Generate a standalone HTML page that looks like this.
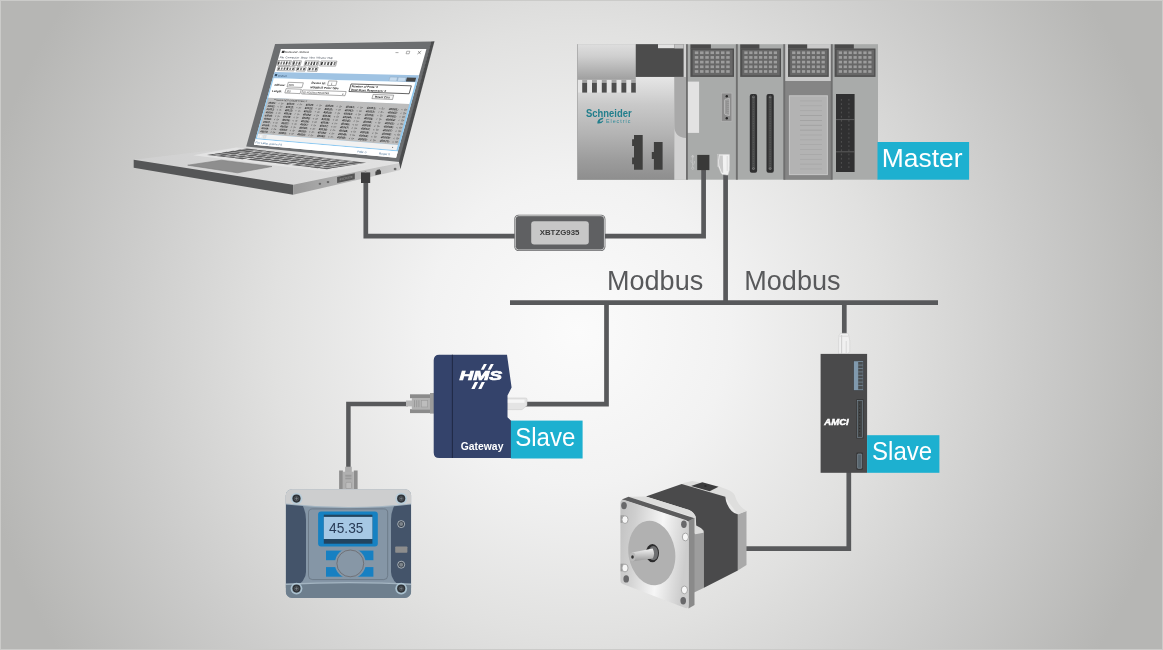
<!DOCTYPE html>
<html lang="en"><head><meta charset="utf-8"><title>Modbus network</title>
<style>
html,body{margin:0;padding:0}
body{width:1163px;height:650px;overflow:hidden;background:#b5b5b3}
#stage{position:relative;width:1163px;height:650px;overflow:hidden;
 background:radial-gradient(circle 610px at 578px 332px,#fbfbfb 0%,#f2f2f2 25%,#e1e1e0 50%,#cbcbca 75%,#b6b6b4 100%);}
#stage:after{content:'';position:absolute;left:0;top:0;right:0;bottom:0;border:1px solid #cbcbc9;pointer-events:none}
</style></head>
<body><div id="stage">
<svg width="1163" height="650" viewBox="0 0 1163 650" style="position:absolute;left:0;top:0;will-change:transform"><defs>
<linearGradient id="gPsTop" x1="0" y1="0" x2="0" y2="1"><stop offset="0" stop-color="#dedede"/><stop offset="0.25" stop-color="#cfcfcf"/><stop offset="0.73" stop-color="#9f9f9f"/><stop offset="1" stop-color="#9f9f9f"/></linearGradient>
<linearGradient id="gPsBody" gradientUnits="userSpaceOnUse" x1="0" y1="76.9" x2="0" y2="179.7"><stop offset="0" stop-color="#e6e6e6"/><stop offset="0.155" stop-color="#d6d6d6"/><stop offset="0.27" stop-color="#c9c9c9"/><stop offset="0.56" stop-color="#b3b3b3"/><stop offset="0.81" stop-color="#9c9c9c"/><stop offset="1" stop-color="#8e8e8e"/></linearGradient>
<linearGradient id="gSide" x1="0" y1="0" x2="1" y2="0"><stop offset="0" stop-color="#9a9a9a"/><stop offset="1" stop-color="#cdcdcd"/></linearGradient>
<linearGradient id="gTop" x1="0" y1="0" x2="1" y2="0"><stop offset="0" stop-color="#cfcfcf"/><stop offset="1" stop-color="#e2e2e2"/></linearGradient>
<linearGradient id="gPlate" x1="0" y1="0.1" x2="1" y2="0.3"><stop offset="0" stop-color="#c2c2c2"/><stop offset="0.22" stop-color="#cfcfcf"/><stop offset="0.62" stop-color="#f6f6f6"/><stop offset="1" stop-color="#cdcdcd"/></linearGradient>
<linearGradient id="gShaft" x1="0" y1="0" x2="0" y2="1"><stop offset="0" stop-color="#f4f4f4"/><stop offset="1" stop-color="#9a9a9a"/></linearGradient>
<g id="conn">
  <rect x="0" y="0" width="20.5" height="4.4" fill="#4a4a4a"/>
  <rect x="0" y="4.1" width="43.6" height="28.4" fill="#4f4f4f"/>
  <rect x="2.2" y="5.4" width="40" height="25.6" fill="#676767"/>
  <g fill="#9d9d9d"><rect x="4.40" y="7.00" width="3.5" height="2.7"/><rect x="9.64" y="7.00" width="3.5" height="2.7"/><rect x="14.88" y="7.00" width="3.5" height="2.7"/><rect x="20.12" y="7.00" width="3.5" height="2.7"/><rect x="25.36" y="7.00" width="3.5" height="2.7"/><rect x="30.60" y="7.00" width="3.5" height="2.7"/><rect x="35.84" y="7.00" width="3.5" height="2.7"/><rect x="4.40" y="11.68" width="3.5" height="2.7"/><rect x="9.64" y="11.68" width="3.5" height="2.7"/><rect x="14.88" y="11.68" width="3.5" height="2.7"/><rect x="20.12" y="11.68" width="3.5" height="2.7"/><rect x="25.36" y="11.68" width="3.5" height="2.7"/><rect x="30.60" y="11.68" width="3.5" height="2.7"/><rect x="35.84" y="11.68" width="3.5" height="2.7"/><rect x="4.40" y="16.36" width="3.5" height="2.7"/><rect x="9.64" y="16.36" width="3.5" height="2.7"/><rect x="14.88" y="16.36" width="3.5" height="2.7"/><rect x="20.12" y="16.36" width="3.5" height="2.7"/><rect x="25.36" y="16.36" width="3.5" height="2.7"/><rect x="30.60" y="16.36" width="3.5" height="2.7"/><rect x="35.84" y="16.36" width="3.5" height="2.7"/><rect x="4.40" y="21.04" width="3.5" height="2.7"/><rect x="9.64" y="21.04" width="3.5" height="2.7"/><rect x="14.88" y="21.04" width="3.5" height="2.7"/><rect x="20.12" y="21.04" width="3.5" height="2.7"/><rect x="25.36" y="21.04" width="3.5" height="2.7"/><rect x="30.60" y="21.04" width="3.5" height="2.7"/><rect x="35.84" y="21.04" width="3.5" height="2.7"/><rect x="4.40" y="25.72" width="3.5" height="2.7"/><rect x="9.64" y="25.72" width="3.5" height="2.7"/><rect x="14.88" y="25.72" width="3.5" height="2.7"/><rect x="20.12" y="25.72" width="3.5" height="2.7"/><rect x="25.36" y="25.72" width="3.5" height="2.7"/><rect x="30.60" y="25.72" width="3.5" height="2.7"/><rect x="35.84" y="25.72" width="3.5" height="2.7"/></g>
</g>
</defs>
<path d="M365.8,180 V236.2 H516" fill="none" stroke="#58595b" stroke-width="4.7" stroke-linejoin="miter"/>
<path d="M510,302.7 H938" fill="none" stroke="#58595b" stroke-width="4.7" stroke-linejoin="miter"/>
<path d="M606.5,302.7 V404.2 H524" fill="none" stroke="#58595b" stroke-width="4.7" stroke-linejoin="miter"/>
<path d="M844.3,302.7 V334.5" fill="none" stroke="#58595b" stroke-width="4.7" stroke-linejoin="miter"/>
<path d="M408,403.9 H348.4 V468" fill="none" stroke="#58595b" stroke-width="4.5" stroke-linejoin="miter"/>
<path d="M848.8,470 V548.6 H745" fill="none" stroke="#58595b" stroke-width="4.7" stroke-linejoin="miter"/>
<g id="laptop">
<polygon points="133.7,159.7 246.5,146.2 399.3,162.6 293.1,184.8" fill="url(#gTop)"/>
<polygon points="133.7,159.7 293.1,184.8 293.1,194.8 133.7,167.8" fill="#555657"/>
<polygon points="293.1,184.8 399.1,163 400.2,169.9 293.1,194.8" fill="url(#gSide)"/>
<polygon points="193.3,155.3 236.3,147.6 371.4,163.8 327.6,172" fill="#e3e3e3"/>
<g transform="matrix(122.2,14.6,-42.2,6.9,246.7,148.1)" fill="#5e5e5f">
<rect x="0.0113" y="0.0300" width="0.0901" height="0.1293"/>
<rect x="0.1137" y="0.0300" width="0.0601" height="0.1293"/>
<rect x="0.1835" y="0.0300" width="0.0601" height="0.1293"/>
<rect x="0.2534" y="0.0300" width="0.0601" height="0.1293"/>
<rect x="0.3233" y="0.0300" width="0.0601" height="0.1293"/>
<rect x="0.3931" y="0.0300" width="0.0601" height="0.1293"/>
<rect x="0.4630" y="0.0300" width="0.0601" height="0.1293"/>
<rect x="0.5328" y="0.0300" width="0.0601" height="0.1293"/>
<rect x="0.6027" y="0.0300" width="0.0601" height="0.1293"/>
<rect x="0.6726" y="0.0300" width="0.0601" height="0.1293"/>
<rect x="0.7424" y="0.0300" width="0.0601" height="0.1293"/>
<rect x="0.8123" y="0.0300" width="0.0601" height="0.1293"/>
<rect x="0.8856" y="0.0300" width="0.1021" height="0.1293"/>
<rect x="0.0133" y="0.1917" width="0.1141" height="0.1293"/>
<rect x="0.1416" y="0.1917" width="0.0601" height="0.1293"/>
<rect x="0.2115" y="0.1917" width="0.0601" height="0.1293"/>
<rect x="0.2813" y="0.1917" width="0.0601" height="0.1293"/>
<rect x="0.3512" y="0.1917" width="0.0601" height="0.1293"/>
<rect x="0.4211" y="0.1917" width="0.0601" height="0.1293"/>
<rect x="0.4909" y="0.1917" width="0.0601" height="0.1293"/>
<rect x="0.5608" y="0.1917" width="0.0601" height="0.1293"/>
<rect x="0.6306" y="0.1917" width="0.0601" height="0.1293"/>
<rect x="0.7005" y="0.1917" width="0.0601" height="0.1293"/>
<rect x="0.7704" y="0.1917" width="0.0601" height="0.1293"/>
<rect x="0.8402" y="0.1917" width="0.0601" height="0.1293"/>
<rect x="0.9115" y="0.1917" width="0.0781" height="0.1293"/>
<rect x="0.0113" y="0.3533" width="0.0901" height="0.1293"/>
<rect x="0.1137" y="0.3533" width="0.0601" height="0.1293"/>
<rect x="0.1835" y="0.3533" width="0.0601" height="0.1293"/>
<rect x="0.2534" y="0.3533" width="0.0601" height="0.1293"/>
<rect x="0.3233" y="0.3533" width="0.0601" height="0.1293"/>
<rect x="0.3931" y="0.3533" width="0.0601" height="0.1293"/>
<rect x="0.4630" y="0.3533" width="0.0601" height="0.1293"/>
<rect x="0.5328" y="0.3533" width="0.0601" height="0.1293"/>
<rect x="0.6027" y="0.3533" width="0.0601" height="0.1293"/>
<rect x="0.6726" y="0.3533" width="0.0601" height="0.1293"/>
<rect x="0.7424" y="0.3533" width="0.0601" height="0.1293"/>
<rect x="0.8123" y="0.3533" width="0.0601" height="0.1293"/>
<rect x="0.8856" y="0.3533" width="0.1021" height="0.1293"/>
<rect x="0.0133" y="0.5150" width="0.1141" height="0.1293"/>
<rect x="0.1416" y="0.5150" width="0.0601" height="0.1293"/>
<rect x="0.2115" y="0.5150" width="0.0601" height="0.1293"/>
<rect x="0.2813" y="0.5150" width="0.0601" height="0.1293"/>
<rect x="0.3512" y="0.5150" width="0.0601" height="0.1293"/>
<rect x="0.4211" y="0.5150" width="0.0601" height="0.1293"/>
<rect x="0.4909" y="0.5150" width="0.0601" height="0.1293"/>
<rect x="0.5608" y="0.5150" width="0.0601" height="0.1293"/>
<rect x="0.6306" y="0.5150" width="0.0601" height="0.1293"/>
<rect x="0.7005" y="0.5150" width="0.0601" height="0.1293"/>
<rect x="0.7704" y="0.5150" width="0.0601" height="0.1293"/>
<rect x="0.8402" y="0.5150" width="0.0601" height="0.1293"/>
<rect x="0.9115" y="0.5150" width="0.0781" height="0.1293"/>
<rect x="0.0113" y="0.6767" width="0.0901" height="0.1293"/>
<rect x="0.1137" y="0.6767" width="0.0601" height="0.1293"/>
<rect x="0.1835" y="0.6767" width="0.0601" height="0.1293"/>
<rect x="0.2534" y="0.6767" width="0.0601" height="0.1293"/>
<rect x="0.3233" y="0.6767" width="0.0601" height="0.1293"/>
<rect x="0.3931" y="0.6767" width="0.0601" height="0.1293"/>
<rect x="0.4630" y="0.6767" width="0.0601" height="0.1293"/>
<rect x="0.5328" y="0.6767" width="0.0601" height="0.1293"/>
<rect x="0.6027" y="0.6767" width="0.0601" height="0.1293"/>
<rect x="0.6726" y="0.6767" width="0.0601" height="0.1293"/>
<rect x="0.7424" y="0.6767" width="0.0601" height="0.1293"/>
<rect x="0.8123" y="0.6767" width="0.0601" height="0.1293"/>
<rect x="0.8856" y="0.6767" width="0.1021" height="0.1293"/>
<rect x="0.0093" y="0.8383" width="0.0646" height="0.1293"/>
<rect x="0.0844" y="0.8383" width="0.0646" height="0.1293"/>
<rect x="0.1596" y="0.8383" width="0.0646" height="0.1293"/>
<rect x="0.2347" y="0.8383" width="0.0646" height="0.1293"/>
<rect x="0.3320" y="0.8383" width="0.3361" height="0.1293"/>
<rect x="0.7007" y="0.8383" width="0.0646" height="0.1293"/>
<rect x="0.7758" y="0.8383" width="0.0646" height="0.1293"/>
<rect x="0.8510" y="0.8383" width="0.0646" height="0.1293"/>
<rect x="0.9261" y="0.8383" width="0.0646" height="0.1293"/>
</g>
<polygon points="187.7,165.2 221.3,160.2 272,166.5 237.6,172.8" fill="#8e8e8e" stroke="#7a7a7a" stroke-width="0.6"/>
<ellipse cx="319.9" cy="183.8" rx="1.3" ry="1.1" fill="#666"/><ellipse cx="328" cy="182.1" rx="1.3" ry="1.1" fill="#666"/>
<polygon points="337.1,176.9 354.8,173.3 354.8,179.2 337.1,182.9" fill="#565656"/>
<polygon points="339.6,178.4 352.4,175.8 352.4,177.8 339.6,180.5" fill="#7c7c7c"/>
<path d="M341,179.2 L351.5,177" stroke="#4a4a4a" stroke-width="0.9" stroke-dasharray="0.8,0.8"/>
<path d="M375.4,171.6 L376.6,171.3 L376.6,169.9 L379.9,169.2 L379.9,170.6 L381,170.4 V174 L375.4,175.2 Z" fill="#454545"/>
<ellipse cx="395.1" cy="169" rx="1.4" ry="1.2" fill="#6a6a6a"/>
<polygon points="275.1,44 431.4,41.4 399.6,162 246.2,146.4" fill="#6c6e70"/>
<polygon points="431.2,41.4 434.5,41.2 400.4,169.2 398.9,161.8" fill="#4b4c4d"/>
<rect x="361" y="172.4" width="9.2" height="10.6" fill="#3d3d3e"/>
<rect x="364.7" y="171.2" width="1.6" height="1.4" fill="#8a8a8a"/>
</g>
<g id="conv">
<rect x="514.3" y="214.7" width="91.1" height="36.2" rx="4.2" fill="#5f6062"/>
<rect x="515.3" y="215.7" width="89.1" height="34.2" rx="3.4" fill="none" stroke="#f2f2f2" stroke-width="0.7"/>
<rect x="531.2" y="221.2" width="57.6" height="23.3" rx="3" fill="#c7c7c7"/>
<text x="539.7" y="234.9" font-family="Liberation Sans, sans-serif" font-weight="700" font-size="7.8" fill="#3a3a3a" textLength="39.7" lengthAdjust="spacingAndGlyphs">XBTZG935</text>
</g>
<g id="plc">
<rect x="577.2" y="44.2" width="300.8" height="135.5" fill="#a9abaa"/>
<rect x="577.2" y="44.2" width="58.6" height="48.7" fill="url(#gPsTop)"/>
<rect x="577.2" y="79.8" width="58.6" height="13.1" fill="#e4e4e4"/>
<rect x="582.20" y="79.8" width="4.9" height="3.2" fill="#a2a2a2"/>
<rect x="582.20" y="82.9" width="4.9" height="9.7" fill="#4d4d4d"/>
<rect x="592.00" y="79.8" width="4.9" height="3.2" fill="#a2a2a2"/>
<rect x="592.00" y="82.9" width="4.9" height="9.7" fill="#4d4d4d"/>
<rect x="601.80" y="79.8" width="4.9" height="3.2" fill="#a2a2a2"/>
<rect x="601.80" y="82.9" width="4.9" height="9.7" fill="#4d4d4d"/>
<rect x="611.60" y="79.8" width="4.9" height="3.2" fill="#a2a2a2"/>
<rect x="611.60" y="82.9" width="4.9" height="9.7" fill="#4d4d4d"/>
<rect x="621.40" y="79.8" width="4.9" height="3.2" fill="#a2a2a2"/>
<rect x="621.40" y="82.9" width="4.9" height="9.7" fill="#4d4d4d"/>
<rect x="631.20" y="79.8" width="4.9" height="3.2" fill="#a2a2a2"/>
<rect x="631.20" y="82.9" width="4.9" height="9.7" fill="#4d4d4d"/>
<path d="M577.2,92.9 H635.8 V76.9 H674.4 V179.7 H577.2 Z" fill="url(#gPsBody)"/>
<rect x="674.4" y="44.2" width="11.7" height="135.5" fill="#d2d2d2"/>
<path d="M674.4,76.9 H686.1 V138 Q674.4,137.6 674.4,126 Z" fill="#a9a9a9"/>
<rect x="635.8" y="44.2" width="47.8" height="32.7" fill="#4c4c4c"/>
<rect x="658" y="44.2" width="16.5" height="4" fill="#e2e2e2"/>
<rect x="674.5" y="44.2" width="9.1" height="4.3" fill="#c4c4c4"/>
<rect x="577.2" y="44.2" width="0.8" height="135.5" fill="#a8a8a8"/>
<path d="M634,134.9 h8.7 v34.8 h-8.7 v-5.5 h-1.9 v-6.6 h1.9 v-11.5 h-1.9 v-6.9 h1.9 z" fill="#3f3f3e"/>
<path d="M653.9,142 h8.7 v27.7 h-8.7 v-10.8 h-2.1 v-6.9 h2.1 z" fill="#3f3f3e"/>
<text x="586" y="117.1" font-family="Liberation Sans, sans-serif" font-weight="700" font-size="10.6" fill="#217e8c" textLength="45.6" lengthAdjust="spacingAndGlyphs">Schneider</text>
<text x="605.9" y="122.6" font-family="Liberation Sans, sans-serif" font-size="5.3" fill="#2f8b99" textLength="24.5" lengthAdjust="spacing">Electric</text>
<path d="M597.3,123.4 Q597,118.6 603.6,117.6 L602.8,119.3 Q600,119.8 599.6,121.6 Q601.6,121.9 602.6,120.4 L603.4,120.9 Q601.6,124 597.3,123.4 Z" fill="#217e8c"/>
<rect x="784.2" y="44.2" width="47.3" height="36.8" fill="#c9c9c9"/>
<rect x="784.2" y="81" width="47.3" height="98.7" fill="#858585"/>
<rect x="686" y="44.2" width="1.9" height="135.5" fill="#6f6f6f"/>
<rect x="735.9" y="44.2" width="1.9" height="135.5" fill="#6f6f6f"/>
<rect x="783.3" y="44.2" width="1.9" height="135.5" fill="#6f6f6f"/>
<rect x="830.8" y="44.2" width="1.9" height="135.5" fill="#6f6f6f"/>
<use href="#conn" transform="translate(690.4,44.4) scale(1.0000,1)"/>
<use href="#conn" transform="translate(740.2,44.4) scale(0.9358,1)"/>
<use href="#conn" transform="translate(788,44.4) scale(0.9358,1)"/>
<use href="#conn" transform="translate(834.6,44.4) scale(0.9381,1)"/>
<rect x="687.9" y="81.6" width="11.2" height="51.3" fill="#e2e2e2"/>
<rect x="721.3" y="93.1" width="10.6" height="28.1" fill="#8b8b8b" stroke="#b9b9b9" stroke-width="0.6"/>
<path d="M724.6,100.2 Q724.6,99.4 725.6,99.2 L729.4,98.4 V115.6 L725.6,114.6 Q724.6,114.4 724.6,113.6 Z" fill="#9a9a9a" stroke="#d2d2d2" stroke-width="0.6"/>
<path d="M726.3,101.5 V113 M728,101 V113.6" stroke="#7a7a7a" stroke-width="0.6" stroke-dasharray="0.9,1.1"/>
<circle cx="726.8" cy="96.2" r="1.2" fill="#262626"/><circle cx="726.8" cy="118.2" r="1.2" fill="#262626"/>
<path d="M692.7,155.2 v12 M692.7,155 l-1.2,2 h2.4 z M692.7,163.5 l-1.7,-1.8 v-1.6 M692.7,165 l1.7,-1.8 v-2.2" stroke="#d0d0d0" stroke-width="0.55" fill="none"/><circle cx="692.7" cy="168.3" r="1.1" fill="none" stroke="#d0d0d0" stroke-width="0.55"/>
<path d="M605,236.2 H703.6 V165" fill="none" stroke="#58595b" stroke-width="4.7" stroke-linejoin="miter"/>
<path d="M725.6,172 V302.7" fill="none" stroke="#58595b" stroke-width="4.7" stroke-linejoin="miter"/>
<rect x="697.2" y="154.9" width="12.2" height="15.2" fill="#393938"/>
<rect x="717.4" y="154.3" width="12" height="12" fill="none" stroke="#c6c6c6" stroke-width="0.7"/>
<path d="M719,154.6 H728.6 Q729.4,154.6 729.4,155.6 V170 L728.2,174.6 Q727.8,175.2 727,175.1 L722.4,174.4 Q721.4,174 721,173 L718.2,166 Q717.6,160 719,154.6 Z" fill="#f1f1f1" stroke="#cfcfcf" stroke-width="0.5"/>
<path d="M719.6,155.5 Q718.6,161 719.2,165.5 L721.8,172.6 L723.2,173 L722.8,155.5 Z" fill="#c9c9c9"/>
<path d="M727.2,156 V171" stroke="#dadada" stroke-width="1"/>
<rect x="749.8" y="94.1" width="7.3" height="78.6" rx="2" fill="#303031"/>
<rect x="751.8" y="97" width="3.3" height="72.5" fill="#484949"/>
<path d="M753.4499999999999,99.5 V166" stroke="#565757" stroke-width="1.3" stroke-dasharray="1.1,1.25"/>
<circle cx="753.4499999999999" cy="96.9" r="0.95" fill="none" stroke="#aaa" stroke-width="0.45"/><circle cx="753.4499999999999" cy="168.6" r="0.95" fill="none" stroke="#aaa" stroke-width="0.45"/>
<rect x="766.5" y="94.1" width="7.3" height="78.6" rx="2" fill="#303031"/>
<rect x="768.5" y="97" width="3.3" height="72.5" fill="#484949"/>
<path d="M770.15,99.5 V166" stroke="#565757" stroke-width="1.3" stroke-dasharray="1.1,1.25"/>
<circle cx="770.15" cy="96.9" r="0.95" fill="none" stroke="#aaa" stroke-width="0.45"/><circle cx="770.15" cy="168.6" r="0.95" fill="none" stroke="#aaa" stroke-width="0.45"/>
<rect x="789.4" y="95.8" width="38" height="78.8" fill="#b3b3b3" stroke="#c6c6c6" stroke-width="1"/>
<rect x="800" y="100.60" width="22" height="0.7" fill="#a6a6a6"/>
<rect x="800" y="105.46" width="22" height="0.7" fill="#a6a6a6"/>
<rect x="800" y="110.32" width="22" height="0.7" fill="#a6a6a6"/>
<rect x="800" y="115.18" width="22" height="0.7" fill="#9c9c9c"/>
<rect x="800" y="120.04" width="22" height="0.7" fill="#9c9c9c"/>
<rect x="800" y="124.90" width="22" height="0.7" fill="#9c9c9c"/>
<rect x="800" y="129.76" width="22" height="0.7" fill="#9c9c9c"/>
<rect x="800" y="134.62" width="22" height="0.7" fill="#a6a6a6"/>
<rect x="800" y="139.48" width="22" height="0.7" fill="#a6a6a6"/>
<rect x="800" y="144.34" width="22" height="0.7" fill="#a6a6a6"/>
<rect x="800" y="149.20" width="22" height="0.7" fill="#a6a6a6"/>
<rect x="800" y="154.06" width="22" height="0.7" fill="#a6a6a6"/>
<rect x="800" y="158.92" width="22" height="0.7" fill="#a6a6a6"/>
<rect x="800" y="163.78" width="22" height="0.7" fill="#a6a6a6"/>
<rect x="800" y="168.64" width="22" height="0.7" fill="#a6a6a6"/>
<rect x="836" y="94" width="18.6" height="78" fill="#303031"/>
<path d="M841.4,99 V168 M848.9,99 V168" stroke="#5e5e5e" stroke-width="0.7" stroke-dasharray="1.8,2.4"/>
<path d="M836,119.6 H854.6 M836,151.8 H854.6" stroke="#707070" stroke-width="0.7"/>
</g>
<rect x="877.5" y="142" width="91.6" height="37.7" fill="#1db0d0"/>
<text x="881.7" y="167" font-family="Liberation Sans, sans-serif" font-size="26" fill="#ffffff" textLength="80.8" lengthAdjust="spacingAndGlyphs">Master</text>
<text x="607" y="290.2" font-family="Liberation Sans, sans-serif" font-size="28.4" fill="#58595b" textLength="96.2" lengthAdjust="spacingAndGlyphs">Modbus</text>
<text x="744.3" y="290.2" font-family="Liberation Sans, sans-serif" font-size="28.4" fill="#58595b" textLength="96.2" lengthAdjust="spacingAndGlyphs">Modbus</text>
<g id="gateway">
<rect x="410" y="394.3" width="20.2" height="3.9" fill="#8b8b8b"/><rect x="410" y="409.2" width="20.2" height="3.9" fill="#8b8b8b"/>
<rect x="406" y="400.5" width="6.2" height="5.9" fill="#b6b6b6"/>
<rect x="411.8" y="398" width="18.4" height="11.3" fill="#b2b2b2"/>
<rect x="414" y="400.2" width="1" height="7" fill="#9a9a9a"/><rect x="416.2" y="400.2" width="1" height="7" fill="#9a9a9a"/><rect x="418.4" y="400.2" width="1" height="7" fill="#9a9a9a"/>
<rect x="421.5" y="400.4" width="6.2" height="6.6" fill="#bdbdbd" stroke="#9a9a9a" stroke-width="0.6"/>
<rect x="430" y="393" width="4" height="20.6" fill="#9b9b9b"/>
<path d="M507,398 H525.6 Q527,398 527,399.4 V405.5 L522,409.6 H507 Z" fill="#e4e4e4" stroke="#c6c6c6" stroke-width="0.5"/>
<rect x="507" y="399.6" width="17.5" height="3.2" fill="#f5f5f5"/>
<path d="M439.3,354.7 H507 L511.6,387.4 L507.5,395.5 V417.2 L511.6,421.2 V458.1 H439.3 Q433.7,458.1 433.7,452.5 V360.3 Q433.7,354.7 439.3,354.7 Z" fill="#34436b"/>
<path d="M452.4,354.7 V458.1" stroke="#212b47" stroke-width="1.1"/>
<text x="459.6" y="380.2" font-family="Liberation Sans, sans-serif" font-weight="700" font-style="italic" font-size="12.6" fill="#fff" stroke="#fff" stroke-width="0.7" textLength="42.4" lengthAdjust="spacingAndGlyphs">HMS</text>
<path d="M480.8,369.7 h3 l3.1,-5.7 h-3 z M487.7,369.7 h3 l3.1,-5.7 h-3 z M471.3,388.9 h3.3 l3.5,-6.9 h-3.3 z M478.2,388.9 h3.2 l3.5,-6.9 h-3.2 z" fill="#fff"/>
<text x="460.8" y="449.9" font-family="Liberation Sans, sans-serif" font-weight="700" font-size="10.4" fill="#fff" textLength="42.6" lengthAdjust="spacingAndGlyphs">Gateway</text>
</g>
<rect x="510.9" y="420.6" width="71.7" height="37.9" fill="#1db0d0"/>
<text x="515.2" y="446.1" font-family="Liberation Sans, sans-serif" font-size="25.7" fill="#ffffff" textLength="60.2" lengthAdjust="spacingAndGlyphs">Slave</text>
<g id="meter">
<rect x="345.1" y="466.7" width="6.7" height="6" fill="#adadad"/>
<rect x="339.1" y="470.5" width="3.8" height="19" fill="#8e8e8e"/><rect x="353.8" y="470.5" width="3.8" height="19" fill="#8e8e8e"/>
<rect x="342.8" y="471.7" width="11" height="17.8" fill="#b0b0b0"/>
<rect x="345.3" y="474.8" width="6.2" height="1.9" fill="#9a9a9a"/><rect x="345.3" y="477.7" width="6.2" height="1.6" fill="#9a9a9a"/>
<rect x="345.9" y="482.3" width="5.6" height="6.3" rx="1" fill="#bdbdbd" stroke="#969696" stroke-width="0.6"/>
<clipPath id="mclip"><rect x="285.7" y="489.2" width="125.5" height="108.7" rx="6.4"/></clipPath>
<g clip-path="url(#mclip)">
<rect x="285.7" y="489.2" width="125.5" height="108.7" fill="#8596a6"/>
<path d="M285.7,495 H294 Q306,505 306,520 V572 Q306,581 294,588 H285.7 Z" fill="#44546a"/>
<path d="M411.2,495 H403 Q391,505 391,520 V572 Q391,581 403,588 H411.2 Z" fill="#44546a"/>
<path d="M285.7,583.6 Q348.5,580.2 411.2,583.6 V586 H285.7 Z" fill="#a4b5c2"/>
<path d="M285.7,584.9 Q348.5,581.5 411.2,584.9 V598 H285.7 Z" fill="#6e7f8e"/>
<path d="M285.7,489 H411.2 V504.6 Q348.5,511.8 285.7,504.6 Z" fill="#a4b5c2"/>
<path d="M285.7,489 H411.2 V503.5 Q348.5,510.6 285.7,503.5 Z" fill="#cdcecf"/>
</g>
<rect x="308.5" y="508.9" width="79.2" height="70.7" rx="4" fill="#8596a6" stroke="#56616d" stroke-width="0.5"/>
<rect x="318.1" y="511.4" width="59.7" height="35" rx="3" fill="#1681c2"/>
<rect x="323.8" y="514.7" width="48.6" height="29" fill="#22445f"/>
<rect x="323.8" y="516.9" width="48.6" height="22.1" fill="#a6c8e4"/>
<text x="329.1" y="532.6" font-family="Liberation Sans, sans-serif" font-size="14.5" fill="#273a55" textLength="34.3" lengthAdjust="spacingAndGlyphs">45.35</text>
<rect x="326" y="550.6" width="47.4" height="9.6" fill="#1780c2"/><rect x="326" y="567.1" width="47.4" height="9.6" fill="#1780c2"/>
<circle cx="350.3" cy="563.4" r="15.4" fill="#8596a6"/>
<circle cx="350.3" cy="563.4" r="13.4" fill="#8797a6" stroke="#5a4d48" stroke-width="0.5"/>
<circle cx="296.5" cy="498.6" r="5.9" fill="#b4cbd9" opacity="0.85"/><circle cx="296.5" cy="498.6" r="4.1" fill="#2f3338"/><circle cx="296.5" cy="498.6" r="2.1" fill="none" stroke="#6d7379" stroke-width="0.5"/><path d="M295.0,498.6 h3 M296.5,497.1 v3" stroke="#9aa0a6" stroke-width="0.5"/>
<circle cx="401.2" cy="498.6" r="5.9" fill="#b4cbd9" opacity="0.85"/><circle cx="401.2" cy="498.6" r="4.1" fill="#2f3338"/><circle cx="401.2" cy="498.6" r="2.1" fill="none" stroke="#6d7379" stroke-width="0.5"/><path d="M399.7,498.6 h3 M401.2,497.1 v3" stroke="#9aa0a6" stroke-width="0.5"/>
<circle cx="296.5" cy="588.6" r="5.9" fill="#b4cbd9" opacity="0.85"/><circle cx="296.5" cy="588.6" r="4.1" fill="#2f3338"/><circle cx="296.5" cy="588.6" r="2.1" fill="none" stroke="#6d7379" stroke-width="0.5"/><path d="M295.0,588.6 h3 M296.5,587.1 v3" stroke="#9aa0a6" stroke-width="0.5"/>
<circle cx="401.2" cy="588.6" r="5.9" fill="#b4cbd9" opacity="0.85"/><circle cx="401.2" cy="588.6" r="4.1" fill="#2f3338"/><circle cx="401.2" cy="588.6" r="2.1" fill="none" stroke="#6d7379" stroke-width="0.5"/><path d="M399.7,588.6 h3 M401.2,587.1 v3" stroke="#9aa0a6" stroke-width="0.5"/>
<circle cx="401.2" cy="524.1" r="3.5" fill="#3a4450" stroke="#d3d8dc" stroke-width="0.7"/><circle cx="401.2" cy="524.1" r="2" fill="#7c838a"/>
<circle cx="401.2" cy="564.7" r="3.5" fill="#3a4450" stroke="#d3d8dc" stroke-width="0.7"/><circle cx="401.2" cy="564.7" r="2" fill="#7c838a"/>
<rect x="395.2" y="546.4" width="12.2" height="6.3" rx="0.8" fill="#8d8d8d"/>
</g>
<g id="amci">
<path d="M838.6,353.9 V340 Q838.6,334.6 840.4,333.3 H847.6 Q848.6,334 848.8,336 L849.8,341 V351.5 L847.6,353.9 Z" fill="#f0f0f0" stroke="#c9c9c9" stroke-width="0.5"/>
<path d="M841.6,335 V353.6" stroke="#cfcfcf" stroke-width="1.1"/><path d="M846.2,341 V353" stroke="#d6d6d6" stroke-width="0.9"/>
<path d="M839.6,336.2 H848.2" stroke="#d2d2d2" stroke-width="0.7"/>
<rect x="820.6" y="353.9" width="46.5" height="118.9" fill="#4a4a4b"/>
<rect x="853.6" y="360.9" width="9.8" height="29.6" fill="#8099ad" stroke="#3c3d3e" stroke-width="0.6"/>
<rect x="858.2" y="362" width="4.6" height="27.4" fill="#4a4e50"/>
<path d="M858.2,365.1 H862.8 M858.2,368.5 H862.8 M858.2,371.9 H862.8 M858.2,375.3 H862.8 M858.2,378.7 H862.8 M858.2,382.1 H862.8 M858.2,385.5 H862.8" stroke="#8099ad" stroke-width="0.6"/>
<rect x="856.4" y="399.2" width="7.2" height="39.3" fill="#353637"/>
<rect x="857.6" y="400.4" width="4.8" height="36.9" fill="#414445" stroke="#7d8d98" stroke-width="0.6"/>
<path d="M859.6,402.5 V436" stroke="#2c2d2e" stroke-width="1.2" stroke-dasharray="0.8,2.4"/>
<rect x="856.4" y="452.6" width="6.5" height="17.1" rx="0.8" fill="#343536"/>
<rect x="857.6" y="454" width="4.1" height="14.3" rx="0.5" fill="#56646d" stroke="#8d9ea9" stroke-width="0.6"/>
<text x="824.3" y="424.8" font-family="Liberation Sans, sans-serif" font-weight="700" font-style="italic" font-size="8.8" fill="#fff" stroke="#fff" stroke-width="0.45" textLength="24.4" lengthAdjust="spacingAndGlyphs">AMCI</text>
</g>
<rect x="867.1" y="435.2" width="72.3" height="37.6" fill="#1db0d0"/>
<text x="872.1" y="460.3" font-family="Liberation Sans, sans-serif" font-size="25.7" fill="#ffffff" textLength="60.1" lengthAdjust="spacingAndGlyphs">Slave</text>
<g id="motor">
<polygon points="737.8,514.3 746.5,511.1 746.5,564.9 737.8,570.5" fill="#a9a9a9"/>
<path d="M683.6,483.1 L692.3,481 L718.5,486.2 L729.7,490.6 Q733,492.6 734.7,494.9 Q736,500 739,504.3 Q742,508.3 746.5,511.1 L737.8,514.6 L725.3,497.5 L681.7,484.6 Z" fill="#dededd"/>
<path d="M645.9,496.5 L681.7,484.1 L725.3,496.8 Q726,505 731.6,511.1 Q734,513.6 737.8,514.3 V570.5 L703.5,588 V531 L695.5,526 V516 Q693,511.5 689.1,509.9 Z" fill="#4a4a4b"/>
<polygon points="691,486 702.3,482.2 718.5,486.8 709.7,491.2" fill="#3d3d3e"/>
<ellipse cx="705.4" cy="486" rx="1.3" ry="0.8" fill="#262626"/>
<polygon points="693,530 703.5,530 703.5,588 693,593" fill="#9d9d9d"/>
<path d="M628.5,496.8 L645.9,496.5 L689.1,509.9 Q694.6,512 695.8,517.5 L696.2,525.6 L700,527.6 Q703.3,529.2 703.5,532.8 L695.4,534.2 L690,530 L690,516 Z" fill="#dcdcdb"/>
<polygon points="621.8,499.4 628.5,496.8 694.5,518.2 688.5,521.4" fill="#5c5c5d"/>
<polygon points="688.5,521 694.5,518 694.5,605 688.5,608.4" fill="#8a8a8a"/>
<path d="M620.4,503.4 Q620.4,498.8 624.6,500.1 L685.6,520.1 Q688.7,521.1 688.7,524.4 V604.6 Q688.7,609.3 684.6,607.8 L623.4,584.3 Q620.4,583.2 620.4,580 Z" fill="url(#gPlate)"/>
<ellipse cx="651.8" cy="553" rx="23.3" ry="32.4" transform="rotate(-9 651.8 553)" fill="#b1b1b1"/>
<ellipse cx="624" cy="505.6" rx="2.8" ry="3.7" fill="#68686a"/>
<ellipse cx="683.9" cy="524.3" rx="2.8" ry="3.7" fill="#68686a"/>
<ellipse cx="626.2" cy="578.9" rx="2.8" ry="3.7" fill="#68686a"/>
<ellipse cx="683.2" cy="600.7" rx="2.8" ry="3.7" fill="#68686a"/>
<rect x="620.6" y="515.3000000000001" width="3.6" height="7.6" fill="#9a9a9a"/>
<ellipse cx="625" cy="519.6" rx="3.1" ry="3.9" fill="#f6f6f6" stroke="#a6a6a6" stroke-width="1"/>
<ellipse cx="685.4" cy="537" rx="3.1" ry="3.9" fill="#f6f6f6" stroke="#a6a6a6" stroke-width="1"/>
<rect x="620.6" y="563.7" width="3.6" height="7.6" fill="#9a9a9a"/>
<ellipse cx="625" cy="568" rx="3.1" ry="3.9" fill="#f6f6f6" stroke="#a6a6a6" stroke-width="1"/>
<ellipse cx="684.4" cy="589.9" rx="3.1" ry="3.9" fill="#f6f6f6" stroke="#a6a6a6" stroke-width="1"/>
<ellipse cx="652.4" cy="553.1" rx="6.6" ry="9.1" fill="#2b2b2c"/>
<ellipse cx="653.2" cy="553.1" rx="4.9" ry="7.2" fill="#6e6f71"/>
<path d="M632.2,552.5 L652.6,548.4 Q655.4,553.4 652.8,558.4 L633,561.2 Z" fill="url(#gShaft)"/>
<ellipse cx="632.5" cy="556.8" rx="3" ry="4.4" fill="#b9b9b9"/>
<ellipse cx="632.5" cy="557" rx="1.3" ry="1.7" fill="#333"/>
</g><g id="screen" font-family="Liberation Sans, sans-serif"><polygon points="280.90,49.00 426.40,49.00 396.10,157.80 253.90,144.80" fill="#ffffff"/><polygon points="282.17,50.75 284.83,50.76 284.19,53.02 281.53,53.01" fill="#3a3a3a"/><text transform="matrix(0.22216,0.00083,-0.07086,0.25152,285.07718,53.02390)" font-size="11" fill="#222" textLength="108" lengthAdjust="spacingAndGlyphs">ModScan32 - ModSca1</text><path d="M395.49,52.60 L398.47,52.61" fill="none" stroke="#555" stroke-width="0.5"/><path d="M406.78,51.24 L409.81,51.24 L409.10,53.77 L406.07,53.76 L406.78,51.24" fill="none" stroke="#555" stroke-width="0.45"/><path d="M418.23,50.98 L420.46,54.10" fill="none" stroke="#444" stroke-width="0.5"/><path d="M421.32,50.98 L417.37,54.08" fill="none" stroke="#444" stroke-width="0.5"/><text transform="matrix(0.22016,0.00190,-0.07062,0.25060,279.38967,58.27014)" font-size="10" fill="#2a3340" textLength="243" lengthAdjust="spacingAndGlyphs">File&#160;&#160;Connection&#160;&#160;Setup&#160;&#160;View&#160;&#160;Window&#160;&#160;Help</text><polygon points="278.09,60.52 291.44,60.66 290.09,65.48 276.75,65.28" fill="#ffffff" stroke="#4a4a4a" stroke-width="0.45"/><polygon points="278.37,61.40 279.83,61.42 278.98,64.43 277.53,64.41" fill="#3c3c3c"/><polygon points="281.02,61.43 282.48,61.45 281.63,64.47 280.17,64.45" fill="#7a7a7a"/><polygon points="283.68,61.46 285.15,61.48 284.30,64.51 282.83,64.48" fill="#555"/><polygon points="286.35,61.49 287.83,61.51 286.97,64.54 285.50,64.52" fill="#3c3c3c"/><polygon points="289.04,61.52 290.52,61.54 289.66,64.58 288.18,64.56" fill="#7a7a7a"/><polygon points="293.25,60.68 301.45,60.77 300.08,65.63 291.89,65.51" fill="#ffffff" stroke="#4a4a4a" stroke-width="0.45"/><polygon points="293.54,61.58 295.04,61.59 294.18,64.65 292.68,64.63" fill="#3c3c3c"/><polygon points="296.26,61.61 297.77,61.63 296.90,64.69 295.40,64.67" fill="#7a7a7a"/><polygon points="299.00,61.64 300.51,61.66 299.64,64.73 298.14,64.71" fill="#555"/><polygon points="305.36,60.81 319.17,60.96 317.78,65.90 303.99,65.69" fill="#ffffff" stroke="#4a4a4a" stroke-width="0.45"/><polygon points="305.66,61.72 307.16,61.73 306.29,64.82 304.79,64.80" fill="#3c3c3c"/><polygon points="308.39,61.75 309.90,61.77 309.03,64.86 307.52,64.84" fill="#7a7a7a"/><polygon points="311.14,61.78 312.66,61.80 311.79,64.90 310.27,64.88" fill="#555"/><polygon points="313.90,61.81 315.43,61.83 314.56,64.94 313.03,64.92" fill="#3c3c3c"/><polygon points="316.68,61.84 318.21,61.86 317.34,64.98 315.81,64.96" fill="#7a7a7a"/><polygon points="321.07,60.98 336.98,61.15 335.57,66.17 319.68,65.93" fill="#ffffff" stroke="#4a4a4a" stroke-width="0.45"/><polygon points="321.44,61.90 323.17,61.92 322.29,65.05 320.56,65.03" fill="#3c3c3c"/><polygon points="324.59,61.94 326.33,61.96 325.45,65.10 323.71,65.07" fill="#7a7a7a"/><polygon points="327.76,61.97 329.51,61.99 328.62,65.14 326.87,65.12" fill="#555"/><polygon points="330.94,62.01 332.70,62.03 331.82,65.19 330.06,65.16" fill="#3c3c3c"/><polygon points="334.15,62.05 335.92,62.07 335.03,65.24 333.26,65.21" fill="#7a7a7a"/><polygon points="278.16,66.56 295.16,66.84 294.01,70.92 277.03,70.58" fill="#ffffff" stroke="#4a4a4a" stroke-width="0.45"/><polygon points="278.47,67.45 280.01,67.47 279.37,69.74 277.83,69.71" fill="#3c3c3c"/><polygon points="281.27,67.50 282.81,67.52 282.17,69.79 280.63,69.76" fill="#7a7a7a"/><polygon points="284.08,67.54 285.63,67.57 284.99,69.85 283.44,69.82" fill="#555"/><polygon points="286.91,67.59 288.47,67.62 287.83,69.90 286.27,69.87" fill="#3c3c3c"/><polygon points="289.75,67.64 291.32,67.67 290.68,69.96 289.11,69.93" fill="#7a7a7a"/><polygon points="292.61,67.69 294.19,67.72 293.54,70.01 291.96,69.98" fill="#555"/><polygon points="297.21,66.87 306.17,67.02 305.01,71.14 296.06,70.96" fill="#ffffff" stroke="#4a4a4a" stroke-width="0.45"/><polygon points="297.55,67.78 299.18,67.80 298.53,70.11 296.90,70.08" fill="#3c3c3c"/><polygon points="300.52,67.83 302.17,67.85 301.52,70.16 299.87,70.13" fill="#7a7a7a"/><polygon points="303.51,67.88 305.17,67.91 304.52,70.22 302.86,70.19" fill="#555"/><polygon points="308.73,67.06 318.12,67.21 316.95,71.38 307.57,71.19" fill="#ffffff" stroke="#4a4a4a" stroke-width="0.45"/><polygon points="309.10,67.97 310.81,68.00 310.15,70.33 308.44,70.30" fill="#3c3c3c"/><polygon points="312.21,68.03 313.94,68.06 313.28,70.39 311.56,70.36" fill="#7a7a7a"/><polygon points="315.35,68.08 317.08,68.11 316.42,70.45 314.69,70.42" fill="#555"/><polygon points="274.41,72.03 419.12,75.15 417.14,82.27 272.64,78.30" fill="#9fc3e3"/><polygon points="272.64,78.30 417.14,82.27 397.85,151.52 255.46,139.27" fill="#8fcaf2"/><polygon points="275.16,74.07 277.36,74.12 276.79,76.13 274.59,76.08" fill="#35506a"/><text transform="matrix(0.22064,0.00569,-0.07089,0.25164,277.75075,76.66227)" font-size="10" fill="#2c4a66" textLength="40" lengthAdjust="spacingAndGlyphs">ModSca1</text><polygon points="390.02,77.04 397.60,77.22 396.51,81.14 388.93,80.93" fill="#c6dbee" stroke="#7890a6" stroke-width="0.3"/><polygon points="398.42,77.24 406.11,77.42 405.01,81.37 397.33,81.16" fill="#c6dbee" stroke="#7890a6" stroke-width="0.3"/><polygon points="406.94,77.44 416.15,77.66 415.04,81.64 405.84,81.39" fill="#454545"/><polygon points="273.74,78.33 415.45,82.22 409.27,104.39 268.22,97.90" fill="#ffffff"/><text transform="matrix(0.21962,0.00754,-0.07084,0.25143,273.87875,85.67771)" font-size="11" fill="#111" textLength="51" lengthAdjust="spacingAndGlyphs" font-weight="700">Address:</text><polygon points="288.29,82.32 303.37,82.78 302.07,87.43 287.01,86.90" fill="#ffffff" stroke="#333" stroke-width="0.4"/><text transform="matrix(0.22562,0.00770,-0.07172,0.25484,288.41886,85.91981)" font-size="11" fill="#333">0001</text><text transform="matrix(0.21928,0.00884,-0.07086,0.25150,272.10742,91.96434)" font-size="11" fill="#111" textLength="44" lengthAdjust="spacingAndGlyphs" font-weight="700">Length:</text><polygon points="286.05,88.67 301.33,89.23 300.10,93.61 284.84,92.99" fill="#ffffff" stroke="#333" stroke-width="0.4"/><text transform="matrix(0.22509,0.00902,-0.07171,0.25480,286.17530,92.27358)" font-size="11" fill="#333">100</text><text transform="matrix(0.23508,0.00740,-0.07304,0.26001,311.32416,83.81338)" font-size="11" fill="#111" textLength="60" lengthAdjust="spacingAndGlyphs" font-weight="700">Device Id:</text><polygon points="328.75,80.90 337.05,81.14 335.78,85.66 327.49,85.39" fill="#ffffff" stroke="#333" stroke-width="0.4"/><text transform="matrix(0.24338,0.00772,-0.07420,0.26457,330.62550,84.68820)" font-size="11" fill="#222">1</text><text transform="matrix(0.23484,0.00835,-0.07305,0.26006,310.08235,88.23398)" font-size="10.5" fill="#111" textLength="121" lengthAdjust="spacingAndGlyphs" font-weight="700">MODBUS Point Type</text><polygon points="302.77,89.93 346.16,91.55 344.99,95.72 301.64,93.94" fill="#ffffff" stroke="#333" stroke-width="0.4"/><text transform="matrix(0.23209,0.00935,-0.07272,0.25875,302.78809,93.20078)" font-size="10" fill="#222" textLength="112" lengthAdjust="spacingAndGlyphs">03: HOLDING REGISTER</text><text transform="matrix(0.24907,0.01004,-0.07509,0.26806,342.21843,94.78982)" font-size="10" fill="#222">&#9662;</text><polygon points="351.07,83.98 411.34,85.82 409.12,93.76 348.96,91.52" fill="#ffffff" stroke="#222" stroke-width="0.7"/><text transform="matrix(0.25260,0.00844,-0.07549,0.26962,351.42499,87.25225)" font-size="10.5" fill="#111" textLength="104" lengthAdjust="spacingAndGlyphs" font-weight="700">Number of Polls: 0</text><text transform="matrix(0.25240,0.00921,-0.07550,0.26966,350.44361,90.75758)" font-size="10.5" fill="#111" textLength="140" lengthAdjust="spacingAndGlyphs" font-weight="700">Valid Slave Responses: 0</text><polygon points="373.11,94.36 393.70,95.16 392.49,99.51 371.92,98.63" fill="#f4f4f4" stroke="#333" stroke-width="0.4"/><text transform="matrix(0.26705,0.01114,-0.07752,0.27764,382.25152,98.08770)" font-size="10" fill="#111" textLength="56" lengthAdjust="spacingAndGlyphs" text-anchor="middle" font-weight="700">Reset Ctrs</text><polygon points="268.29,97.65 409.35,104.11 397.93,145.11 258.10,133.83" fill="#bdbdbd"/><text transform="matrix(0.22055,0.01068,-0.07115,0.25259,273.87168,100.71924)" font-size="9.5" fill="#2a2a2a" textLength="150" lengthAdjust="spacingAndGlyphs">** Device NOT CONNECTED! **</text><text transform="matrix(0.21839,0.01126,-0.07086,0.25148,268.12037,103.75433)" font-size="11" fill="#222" textLength="36" lengthAdjust="spacingAndGlyphs" font-weight="700">40001:</text><text transform="matrix(0.22258,0.01147,-0.07148,0.25389,278.26210,104.27716)" font-size="10" fill="#333" textLength="22" lengthAdjust="spacingAndGlyphs">&lt;&#160;&#160;0&gt;</text><text transform="matrix(0.22599,0.01165,-0.07198,0.25583,286.44820,104.69916)" font-size="11" fill="#222" textLength="36" lengthAdjust="spacingAndGlyphs" font-weight="700">40011:</text><text transform="matrix(0.23040,0.01188,-0.07261,0.25832,296.94469,105.24028)" font-size="10" fill="#333" textLength="22" lengthAdjust="spacingAndGlyphs">&lt;&#160;&#160;0&gt;</text><text transform="matrix(0.23399,0.01206,-0.07313,0.26033,305.41966,105.67717)" font-size="11" fill="#222" textLength="36" lengthAdjust="spacingAndGlyphs" font-weight="700">40021:</text><text transform="matrix(0.23864,0.01230,-0.07378,0.26290,316.28985,106.23755)" font-size="10" fill="#333" textLength="22" lengthAdjust="spacingAndGlyphs">&lt;&#160;&#160;0&gt;</text><text transform="matrix(0.24243,0.01250,-0.07431,0.26498,325.06926,106.69014)" font-size="11" fill="#222" textLength="36" lengthAdjust="spacingAndGlyphs" font-weight="700">40031:</text><text transform="matrix(0.24734,0.01275,-0.07499,0.26766,336.33347,107.27083)" font-size="10" fill="#333" textLength="22" lengthAdjust="spacingAndGlyphs">&lt;&#160;&#160;0&gt;</text><text transform="matrix(0.25134,0.01296,-0.07554,0.26981,345.43403,107.73998)" font-size="11" fill="#222" textLength="36" lengthAdjust="spacingAndGlyphs" font-weight="700">40041:</text><text transform="matrix(0.25652,0.01322,-0.07624,0.27258,357.11407,108.34211)" font-size="10" fill="#333" textLength="22" lengthAdjust="spacingAndGlyphs">&lt;&#160;&#160;0&gt;</text><text transform="matrix(0.26074,0.01344,-0.07681,0.27482,366.55372,108.82874)" font-size="11" fill="#222" textLength="36" lengthAdjust="spacingAndGlyphs" font-weight="700">40051:</text><text transform="matrix(0.26622,0.01372,-0.07753,0.27770,378.67306,109.45351)" font-size="10" fill="#333" textLength="22" lengthAdjust="spacingAndGlyphs">&lt;&#160;&#160;0&gt;</text><text transform="matrix(0.27068,0.01395,-0.07812,0.28002,388.47111,109.95862)" font-size="11" fill="#222" textLength="36" lengthAdjust="spacingAndGlyphs" font-weight="700">40061:</text><text transform="matrix(0.27647,0.01425,-0.07887,0.28300,401.05501,110.60734)" font-size="10" fill="#333" textLength="22" lengthAdjust="spacingAndGlyphs">&lt;&#160;&#160;0&gt;</text><text transform="matrix(0.21822,0.01191,-0.07087,0.25152,267.22745,106.92325)" font-size="11" fill="#222" textLength="36" lengthAdjust="spacingAndGlyphs" font-weight="700">40002:</text><text transform="matrix(0.22241,0.01214,-0.07149,0.25392,277.36139,107.47637)" font-size="10" fill="#333" textLength="22" lengthAdjust="spacingAndGlyphs">&lt;&#160;&#160;0&gt;</text><text transform="matrix(0.22582,0.01233,-0.07199,0.25587,285.54123,107.92283)" font-size="11" fill="#222" textLength="36" lengthAdjust="spacingAndGlyphs" font-weight="700">40012:</text><text transform="matrix(0.23023,0.01257,-0.07262,0.25836,296.02968,108.49531)" font-size="10" fill="#333" textLength="22" lengthAdjust="spacingAndGlyphs">&lt;&#160;&#160;0&gt;</text><text transform="matrix(0.23382,0.01276,-0.07314,0.26036,304.49819,108.95753)" font-size="11" fill="#222" textLength="36" lengthAdjust="spacingAndGlyphs" font-weight="700">40022:</text><text transform="matrix(0.23846,0.01302,-0.07380,0.26294,315.36009,109.55038)" font-size="10" fill="#333" textLength="22" lengthAdjust="spacingAndGlyphs">&lt;&#160;&#160;0&gt;</text><text transform="matrix(0.24225,0.01322,-0.07433,0.26503,324.13282,110.02921)" font-size="11" fill="#222" textLength="36" lengthAdjust="spacingAndGlyphs" font-weight="700">40032:</text><text transform="matrix(0.24715,0.01349,-0.07501,0.26770,335.38848,110.64355)" font-size="10" fill="#333" textLength="22" lengthAdjust="spacingAndGlyphs">&lt;&#160;&#160;0&gt;</text><text transform="matrix(0.25115,0.01371,-0.07555,0.26986,344.48213,111.13989)" font-size="11" fill="#222" textLength="36" lengthAdjust="spacingAndGlyphs" font-weight="700">40042:</text><text transform="matrix(0.25632,0.01399,-0.07625,0.27263,356.15334,111.77692)" font-size="10" fill="#333" textLength="22" lengthAdjust="spacingAndGlyphs">&lt;&#160;&#160;0&gt;</text><text transform="matrix(0.26054,0.01422,-0.07682,0.27486,365.58586,112.29176)" font-size="11" fill="#222" textLength="36" lengthAdjust="spacingAndGlyphs" font-weight="700">40052:</text><text transform="matrix(0.26601,0.01452,-0.07755,0.27774,377.69607,112.95275)" font-size="10" fill="#333" textLength="22" lengthAdjust="spacingAndGlyphs">&lt;&#160;&#160;0&gt;</text><text transform="matrix(0.27048,0.01476,-0.07813,0.28006,387.48675,113.48714)" font-size="11" fill="#222" textLength="36" lengthAdjust="spacingAndGlyphs" font-weight="700">40062:</text><text transform="matrix(0.27627,0.01508,-0.07888,0.28305,400.06120,114.17346)" font-size="10" fill="#333" textLength="22" lengthAdjust="spacingAndGlyphs">&lt;&#160;&#160;0&gt;</text><text transform="matrix(0.21805,0.01256,-0.07088,0.25156,266.33439,110.09262)" font-size="11" fill="#222" textLength="36" lengthAdjust="spacingAndGlyphs" font-weight="700">40003:</text><text transform="matrix(0.22224,0.01280,-0.07150,0.25396,276.46055,110.67605)" font-size="10" fill="#333" textLength="22" lengthAdjust="spacingAndGlyphs">&lt;&#160;&#160;0&gt;</text><text transform="matrix(0.22564,0.01300,-0.07200,0.25590,284.63411,111.14698)" font-size="11" fill="#222" textLength="36" lengthAdjust="spacingAndGlyphs" font-weight="700">40013:</text><text transform="matrix(0.23005,0.01325,-0.07264,0.25839,295.11454,111.75082)" font-size="10" fill="#333" textLength="22" lengthAdjust="spacingAndGlyphs">&lt;&#160;&#160;0&gt;</text><text transform="matrix(0.23364,0.01346,-0.07315,0.26040,303.57657,112.23837)" font-size="11" fill="#222" textLength="36" lengthAdjust="spacingAndGlyphs" font-weight="700">40023:</text><text transform="matrix(0.23828,0.01373,-0.07381,0.26298,314.43019,112.86371)" font-size="10" fill="#333" textLength="22" lengthAdjust="spacingAndGlyphs">&lt;&#160;&#160;0&gt;</text><text transform="matrix(0.24207,0.01395,-0.07434,0.26507,323.19624,113.36878)" font-size="11" fill="#222" textLength="36" lengthAdjust="spacingAndGlyphs" font-weight="700">40033:</text><text transform="matrix(0.24696,0.01423,-0.07502,0.26774,334.44334,114.01679)" font-size="10" fill="#333" textLength="22" lengthAdjust="spacingAndGlyphs">&lt;&#160;&#160;0&gt;</text><text transform="matrix(0.25096,0.01446,-0.07556,0.26990,343.53009,114.54034)" font-size="11" fill="#222" textLength="36" lengthAdjust="spacingAndGlyphs" font-weight="700">40043:</text><text transform="matrix(0.25613,0.01476,-0.07627,0.27267,355.19246,115.21228)" font-size="10" fill="#333" textLength="22" lengthAdjust="spacingAndGlyphs">&lt;&#160;&#160;0&gt;</text><text transform="matrix(0.26035,0.01500,-0.07683,0.27491,364.61785,115.75533)" font-size="11" fill="#222" textLength="36" lengthAdjust="spacingAndGlyphs" font-weight="700">40053:</text><text transform="matrix(0.26581,0.01532,-0.07756,0.27778,376.71892,116.45255)" font-size="10" fill="#333" textLength="22" lengthAdjust="spacingAndGlyphs">&lt;&#160;&#160;0&gt;</text><text transform="matrix(0.27028,0.01557,-0.07814,0.28011,386.50222,117.01623)" font-size="11" fill="#222" textLength="36" lengthAdjust="spacingAndGlyphs" font-weight="700">40063:</text><text transform="matrix(0.27606,0.01591,-0.07889,0.28310,399.06723,117.74017)" font-size="10" fill="#333" textLength="22" lengthAdjust="spacingAndGlyphs">&lt;&#160;&#160;0&gt;</text><text transform="matrix(0.21788,0.01322,-0.07089,0.25159,265.44121,113.26246)" font-size="11" fill="#222" textLength="36" lengthAdjust="spacingAndGlyphs" font-weight="700">40004:</text><text transform="matrix(0.22207,0.01347,-0.07151,0.25400,275.55958,113.87620)" font-size="10" fill="#333" textLength="22" lengthAdjust="spacingAndGlyphs">&lt;&#160;&#160;0&gt;</text><text transform="matrix(0.22547,0.01368,-0.07201,0.25594,283.72687,114.37160)" font-size="11" fill="#222" textLength="36" lengthAdjust="spacingAndGlyphs" font-weight="700">40014:</text><text transform="matrix(0.22987,0.01394,-0.07265,0.25843,294.19926,115.00683)" font-size="10" fill="#333" textLength="22" lengthAdjust="spacingAndGlyphs">&lt;&#160;&#160;0&gt;</text><text transform="matrix(0.23346,0.01416,-0.07316,0.26044,302.65482,115.51971)" font-size="11" fill="#222" textLength="36" lengthAdjust="spacingAndGlyphs" font-weight="700">40024:</text><text transform="matrix(0.23810,0.01444,-0.07382,0.26302,313.50015,116.17755)" font-size="10" fill="#333" textLength="22" lengthAdjust="spacingAndGlyphs">&lt;&#160;&#160;0&gt;</text><text transform="matrix(0.24188,0.01467,-0.07435,0.26511,322.25951,116.70887)" font-size="11" fill="#222" textLength="36" lengthAdjust="spacingAndGlyphs" font-weight="700">40034:</text><text transform="matrix(0.24678,0.01497,-0.07503,0.26778,333.49805,117.39056)" font-size="10" fill="#333" textLength="22" lengthAdjust="spacingAndGlyphs">&lt;&#160;&#160;0&gt;</text><text transform="matrix(0.25077,0.01521,-0.07558,0.26994,342.57790,117.94131)" font-size="11" fill="#222" textLength="36" lengthAdjust="spacingAndGlyphs" font-weight="700">40044:</text><text transform="matrix(0.25594,0.01552,-0.07628,0.27271,354.23143,118.64818)" font-size="10" fill="#333" textLength="22" lengthAdjust="spacingAndGlyphs">&lt;&#160;&#160;0&gt;</text><text transform="matrix(0.26015,0.01578,-0.07684,0.27495,363.64968,119.21946)" font-size="11" fill="#222" textLength="36" lengthAdjust="spacingAndGlyphs" font-weight="700">40054:</text><text transform="matrix(0.26561,0.01611,-0.07757,0.27783,375.74161,119.95291)" font-size="10" fill="#333" textLength="22" lengthAdjust="spacingAndGlyphs">&lt;&#160;&#160;0&gt;</text><text transform="matrix(0.27007,0.01638,-0.07816,0.28015,385.51754,120.54589)" font-size="11" fill="#222" textLength="36" lengthAdjust="spacingAndGlyphs" font-weight="700">40064:</text><text transform="matrix(0.27585,0.01673,-0.07891,0.28314,398.07309,121.30747)" font-size="10" fill="#333" textLength="22" lengthAdjust="spacingAndGlyphs">&lt;&#160;&#160;0&gt;</text><text transform="matrix(0.21772,0.01387,-0.07090,0.25163,264.54789,116.43275)" font-size="11" fill="#222" textLength="36" lengthAdjust="spacingAndGlyphs" font-weight="700">40005:</text><text transform="matrix(0.22189,0.01414,-0.07152,0.25404,274.65848,117.07683)" font-size="10" fill="#333" textLength="22" lengthAdjust="spacingAndGlyphs">&lt;&#160;&#160;0&gt;</text><text transform="matrix(0.22530,0.01435,-0.07202,0.25598,282.81949,117.59671)" font-size="11" fill="#222" textLength="36" lengthAdjust="spacingAndGlyphs" font-weight="700">40015:</text><text transform="matrix(0.22970,0.01463,-0.07266,0.25847,293.28385,118.26332)" font-size="10" fill="#333" textLength="22" lengthAdjust="spacingAndGlyphs">&lt;&#160;&#160;0&gt;</text><text transform="matrix(0.23328,0.01486,-0.07317,0.26048,301.73293,118.80155)" font-size="11" fill="#222" textLength="36" lengthAdjust="spacingAndGlyphs" font-weight="700">40025:</text><text transform="matrix(0.23792,0.01516,-0.07383,0.26306,312.56996,119.49189)" font-size="10" fill="#333" textLength="22" lengthAdjust="spacingAndGlyphs">&lt;&#160;&#160;0&gt;</text><text transform="matrix(0.24170,0.01540,-0.07436,0.26515,321.32264,120.04946)" font-size="11" fill="#222" textLength="36" lengthAdjust="spacingAndGlyphs" font-weight="700">40035:</text><text transform="matrix(0.24659,0.01571,-0.07504,0.26782,332.55262,120.76485)" font-size="10" fill="#333" textLength="22" lengthAdjust="spacingAndGlyphs">&lt;&#160;&#160;0&gt;</text><text transform="matrix(0.25058,0.01596,-0.07559,0.26998,341.62556,121.34282)" font-size="11" fill="#222" textLength="36" lengthAdjust="spacingAndGlyphs" font-weight="700">40045:</text><text transform="matrix(0.25574,0.01629,-0.07629,0.27275,353.27024,122.08462)" font-size="10" fill="#333" textLength="22" lengthAdjust="spacingAndGlyphs">&lt;&#160;&#160;0&gt;</text><text transform="matrix(0.25995,0.01656,-0.07686,0.27500,362.68136,122.68413)" font-size="11" fill="#222" textLength="36" lengthAdjust="spacingAndGlyphs" font-weight="700">40055:</text><text transform="matrix(0.26541,0.01691,-0.07758,0.27787,374.76415,123.45384)" font-size="10" fill="#333" textLength="22" lengthAdjust="spacingAndGlyphs">&lt;&#160;&#160;0&gt;</text><text transform="matrix(0.26987,0.01719,-0.07817,0.28020,384.53270,124.07612)" font-size="11" fill="#222" textLength="36" lengthAdjust="spacingAndGlyphs" font-weight="700">40065:</text><text transform="matrix(0.27564,0.01756,-0.07892,0.28319,397.07880,124.87534)" font-size="10" fill="#333" textLength="22" lengthAdjust="spacingAndGlyphs">&lt;&#160;&#160;0&gt;</text><text transform="matrix(0.21755,0.01452,-0.07091,0.25167,263.65445,119.60351)" font-size="11" fill="#222" textLength="36" lengthAdjust="spacingAndGlyphs" font-weight="700">40006:</text><text transform="matrix(0.22172,0.01480,-0.07153,0.25407,273.75724,120.27792)" font-size="10" fill="#333" textLength="22" lengthAdjust="spacingAndGlyphs">&lt;&#160;&#160;0&gt;</text><text transform="matrix(0.22512,0.01503,-0.07203,0.25602,281.91197,120.82229)" font-size="11" fill="#222" textLength="36" lengthAdjust="spacingAndGlyphs" font-weight="700">40016:</text><text transform="matrix(0.22952,0.01532,-0.07267,0.25851,292.36829,121.52029)" font-size="10" fill="#333" textLength="22" lengthAdjust="spacingAndGlyphs">&lt;&#160;&#160;0&gt;</text><text transform="matrix(0.23310,0.01556,-0.07318,0.26052,300.81090,122.08387)" font-size="11" fill="#222" textLength="36" lengthAdjust="spacingAndGlyphs" font-weight="700">40026:</text><text transform="matrix(0.23774,0.01587,-0.07384,0.26310,311.63963,122.80674)" font-size="10" fill="#333" textLength="22" lengthAdjust="spacingAndGlyphs">&lt;&#160;&#160;0&gt;</text><text transform="matrix(0.24151,0.01612,-0.07437,0.26519,320.38563,123.39058)" font-size="11" fill="#222" textLength="36" lengthAdjust="spacingAndGlyphs" font-weight="700">40036:</text><text transform="matrix(0.24640,0.01645,-0.07505,0.26786,331.60704,124.13965)" font-size="10" fill="#333" textLength="22" lengthAdjust="spacingAndGlyphs">&lt;&#160;&#160;0&gt;</text><text transform="matrix(0.25039,0.01671,-0.07560,0.27002,340.67308,124.74485)" font-size="11" fill="#222" textLength="36" lengthAdjust="spacingAndGlyphs" font-weight="700">40046:</text><text transform="matrix(0.25555,0.01706,-0.07630,0.27280,352.30891,125.52160)" font-size="10" fill="#333" textLength="22" lengthAdjust="spacingAndGlyphs">&lt;&#160;&#160;0&gt;</text><text transform="matrix(0.25976,0.01734,-0.07687,0.27504,361.71288,126.14936)" font-size="11" fill="#222" textLength="36" lengthAdjust="spacingAndGlyphs" font-weight="700">40056:</text><text transform="matrix(0.26521,0.01770,-0.07760,0.27792,373.78653,126.95533)" font-size="10" fill="#333" textLength="22" lengthAdjust="spacingAndGlyphs">&lt;&#160;&#160;0&gt;</text><text transform="matrix(0.26966,0.01800,-0.07818,0.28025,383.54770,127.60693)" font-size="11" fill="#222" textLength="36" lengthAdjust="spacingAndGlyphs" font-weight="700">40066:</text><text transform="matrix(0.27544,0.01839,-0.07893,0.28323,396.08433,128.44381)" font-size="10" fill="#333" textLength="22" lengthAdjust="spacingAndGlyphs">&lt;&#160;&#160;0&gt;</text><text transform="matrix(0.21738,0.01518,-0.07092,0.25170,262.76087,122.77473)" font-size="11" fill="#222" textLength="36" lengthAdjust="spacingAndGlyphs" font-weight="700">40007:</text><text transform="matrix(0.22155,0.01547,-0.07154,0.25411,272.85588,123.47948)" font-size="10" fill="#333" textLength="22" lengthAdjust="spacingAndGlyphs">&lt;&#160;&#160;0&gt;</text><text transform="matrix(0.22495,0.01570,-0.07204,0.25606,281.00432,124.04834)" font-size="11" fill="#222" textLength="36" lengthAdjust="spacingAndGlyphs" font-weight="700">40017:</text><text transform="matrix(0.22934,0.01601,-0.07268,0.25855,291.45261,124.77776)" font-size="10" fill="#333" textLength="22" lengthAdjust="spacingAndGlyphs">&lt;&#160;&#160;0&gt;</text><text transform="matrix(0.23292,0.01626,-0.07319,0.26056,299.88873,125.36670)" font-size="11" fill="#222" textLength="36" lengthAdjust="spacingAndGlyphs" font-weight="700">40027:</text><text transform="matrix(0.23755,0.01658,-0.07385,0.26314,310.70917,126.12209)" font-size="10" fill="#333" textLength="22" lengthAdjust="spacingAndGlyphs">&lt;&#160;&#160;0&gt;</text><text transform="matrix(0.24133,0.01685,-0.07438,0.26523,319.44847,126.73220)" font-size="11" fill="#222" textLength="36" lengthAdjust="spacingAndGlyphs" font-weight="700">40037:</text><text transform="matrix(0.24621,0.01719,-0.07506,0.26790,330.66131,127.51499)" font-size="10" fill="#333" textLength="22" lengthAdjust="spacingAndGlyphs">&lt;&#160;&#160;0&gt;</text><text transform="matrix(0.25019,0.01747,-0.07561,0.27007,339.72044,128.14742)" font-size="11" fill="#222" textLength="36" lengthAdjust="spacingAndGlyphs" font-weight="700">40047:</text><text transform="matrix(0.25535,0.01783,-0.07631,0.27284,351.34742,128.95912)" font-size="10" fill="#333" textLength="22" lengthAdjust="spacingAndGlyphs">&lt;&#160;&#160;0&gt;</text><text transform="matrix(0.25956,0.01812,-0.07688,0.27508,360.74425,129.61513)" font-size="11" fill="#222" textLength="36" lengthAdjust="spacingAndGlyphs" font-weight="700">40057:</text><text transform="matrix(0.26501,0.01850,-0.07761,0.27796,372.80875,130.45738)" font-size="10" fill="#333" textLength="22" lengthAdjust="spacingAndGlyphs">&lt;&#160;&#160;0&gt;</text><text transform="matrix(0.26946,0.01881,-0.07819,0.28029,382.56253,131.13831)" font-size="11" fill="#222" textLength="36" lengthAdjust="spacingAndGlyphs" font-weight="700">40067:</text><text transform="matrix(0.27523,0.01921,-0.07894,0.28328,395.08971,132.01285)" font-size="10" fill="#333" textLength="22" lengthAdjust="spacingAndGlyphs">&lt;&#160;&#160;0&gt;</text><text transform="matrix(0.21721,0.01583,-0.07093,0.25174,261.86717,125.94642)" font-size="11" fill="#222" textLength="36" lengthAdjust="spacingAndGlyphs" font-weight="700">40008:</text><text transform="matrix(0.22138,0.01613,-0.07155,0.25415,271.95437,126.68152)" font-size="10" fill="#333" textLength="22" lengthAdjust="spacingAndGlyphs">&lt;&#160;&#160;0&gt;</text><text transform="matrix(0.22478,0.01638,-0.07205,0.25609,280.09654,127.27488)" font-size="11" fill="#222" textLength="36" lengthAdjust="spacingAndGlyphs" font-weight="700">40018:</text><text transform="matrix(0.22917,0.01670,-0.07269,0.25859,290.53678,128.03571)" font-size="10" fill="#333" textLength="22" lengthAdjust="spacingAndGlyphs">&lt;&#160;&#160;0&gt;</text><text transform="matrix(0.23274,0.01696,-0.07320,0.26060,298.96642,128.65001)" font-size="11" fill="#222" textLength="36" lengthAdjust="spacingAndGlyphs" font-weight="700">40028:</text><text transform="matrix(0.23737,0.01730,-0.07386,0.26318,309.77856,129.43795)" font-size="10" fill="#333" textLength="22" lengthAdjust="spacingAndGlyphs">&lt;&#160;&#160;0&gt;</text><text transform="matrix(0.24114,0.01757,-0.07439,0.26527,318.51117,130.07433)" font-size="11" fill="#222" textLength="36" lengthAdjust="spacingAndGlyphs" font-weight="700">40038:</text><text transform="matrix(0.24602,0.01793,-0.07508,0.26795,329.71544,130.89084)" font-size="10" fill="#333" textLength="22" lengthAdjust="spacingAndGlyphs">&lt;&#160;&#160;0&gt;</text><text transform="matrix(0.25000,0.01822,-0.07562,0.27011,338.76765,131.55052)" font-size="11" fill="#222" textLength="36" lengthAdjust="spacingAndGlyphs" font-weight="700">40048:</text><text transform="matrix(0.25516,0.01859,-0.07633,0.27288,350.38578,132.39719)" font-size="10" fill="#333" textLength="22" lengthAdjust="spacingAndGlyphs">&lt;&#160;&#160;0&gt;</text><text transform="matrix(0.25936,0.01890,-0.07689,0.27513,359.77547,133.08146)" font-size="11" fill="#222" textLength="36" lengthAdjust="spacingAndGlyphs" font-weight="700">40058:</text><text transform="matrix(0.26481,0.01930,-0.07762,0.27801,371.83081,133.95999)" font-size="10" fill="#333" textLength="22" lengthAdjust="spacingAndGlyphs">&lt;&#160;&#160;0&gt;</text><text transform="matrix(0.26926,0.01962,-0.07821,0.28034,381.57721,134.67026)" font-size="11" fill="#222" textLength="36" lengthAdjust="spacingAndGlyphs" font-weight="700">40068:</text><text transform="matrix(0.27502,0.02004,-0.07896,0.28333,394.09492,135.58248)" font-size="10" fill="#333" textLength="22" lengthAdjust="spacingAndGlyphs">&lt;&#160;&#160;0&gt;</text><text transform="matrix(0.21704,0.01648,-0.07094,0.25178,260.97333,129.11856)" font-size="11" fill="#222" textLength="36" lengthAdjust="spacingAndGlyphs" font-weight="700">40009:</text><text transform="matrix(0.22121,0.01680,-0.07156,0.25419,271.05274,129.88402)" font-size="10" fill="#333" textLength="22" lengthAdjust="spacingAndGlyphs">&lt;&#160;&#160;0&gt;</text><text transform="matrix(0.22460,0.01706,-0.07206,0.25613,279.18862,130.50189)" font-size="11" fill="#222" textLength="36" lengthAdjust="spacingAndGlyphs" font-weight="700">40019:</text><text transform="matrix(0.22899,0.01739,-0.07270,0.25863,289.62082,131.29414)" font-size="10" fill="#333" textLength="22" lengthAdjust="spacingAndGlyphs">&lt;&#160;&#160;0&gt;</text><text transform="matrix(0.23257,0.01766,-0.07322,0.26064,298.04397,131.93383)" font-size="11" fill="#222" textLength="36" lengthAdjust="spacingAndGlyphs" font-weight="700">40029:</text><text transform="matrix(0.23719,0.01801,-0.07387,0.26322,308.84781,132.75431)" font-size="10" fill="#333" textLength="22" lengthAdjust="spacingAndGlyphs">&lt;&#160;&#160;0&gt;</text><text transform="matrix(0.24096,0.01830,-0.07441,0.26531,317.57372,133.41698)" font-size="11" fill="#222" textLength="36" lengthAdjust="spacingAndGlyphs" font-weight="700">40039:</text><text transform="matrix(0.24584,0.01867,-0.07509,0.26799,328.76942,134.26722)" font-size="10" fill="#333" textLength="22" lengthAdjust="spacingAndGlyphs">&lt;&#160;&#160;0&gt;</text><text transform="matrix(0.24981,0.01897,-0.07564,0.27015,337.81472,134.95415)" font-size="11" fill="#222" textLength="36" lengthAdjust="spacingAndGlyphs" font-weight="700">40049:</text><text transform="matrix(0.25496,0.01936,-0.07634,0.27293,349.42399,135.83580)" font-size="10" fill="#333" textLength="22" lengthAdjust="spacingAndGlyphs">&lt;&#160;&#160;0&gt;</text><text transform="matrix(0.25917,0.01968,-0.07691,0.27517,358.80653,136.54834)" font-size="11" fill="#222" textLength="36" lengthAdjust="spacingAndGlyphs" font-weight="700">40059:</text><text transform="matrix(0.26461,0.02010,-0.07763,0.27805,370.85272,137.46317)" font-size="10" fill="#333" textLength="22" lengthAdjust="spacingAndGlyphs">&lt;&#160;&#160;0&gt;</text><text transform="matrix(0.26905,0.02043,-0.07822,0.28038,380.59173,138.20278)" font-size="11" fill="#222" textLength="36" lengthAdjust="spacingAndGlyphs" font-weight="700">40069:</text><text transform="matrix(0.27481,0.02087,-0.07897,0.28337,393.09997,139.15270)" font-size="10" fill="#333" textLength="22" lengthAdjust="spacingAndGlyphs">&lt;&#160;&#160;0&gt;</text><text transform="matrix(0.21688,0.01714,-0.07095,0.25181,260.07937,132.29116)" font-size="11" fill="#222" textLength="36" lengthAdjust="spacingAndGlyphs" font-weight="700">40010:</text><text transform="matrix(0.22104,0.01747,-0.07157,0.25422,270.15098,133.08700)" font-size="10" fill="#333" textLength="22" lengthAdjust="spacingAndGlyphs">&lt;&#160;&#160;0&gt;</text><text transform="matrix(0.22443,0.01773,-0.07207,0.25617,278.28057,133.72938)" font-size="11" fill="#222" textLength="36" lengthAdjust="spacingAndGlyphs" font-weight="700">40020:</text><text transform="matrix(0.22881,0.01808,-0.07271,0.25866,288.70472,134.55307)" font-size="10" fill="#333" textLength="22" lengthAdjust="spacingAndGlyphs">&lt;&#160;&#160;0&gt;</text><text transform="matrix(0.23239,0.01836,-0.07323,0.26068,297.12138,135.21813)" font-size="11" fill="#222" textLength="36" lengthAdjust="spacingAndGlyphs" font-weight="700">40030:</text><text transform="matrix(0.23701,0.01873,-0.07389,0.26326,307.91691,136.07117)" font-size="10" fill="#333" textLength="22" lengthAdjust="spacingAndGlyphs">&lt;&#160;&#160;0&gt;</text><text transform="matrix(0.24077,0.01903,-0.07442,0.26535,316.63613,136.76014)" font-size="11" fill="#222" textLength="36" lengthAdjust="spacingAndGlyphs" font-weight="700">40040:</text><text transform="matrix(0.24565,0.01941,-0.07510,0.26803,327.82325,137.64412)" font-size="10" fill="#333" textLength="22" lengthAdjust="spacingAndGlyphs">&lt;&#160;&#160;0&gt;</text><text transform="matrix(0.24962,0.01972,-0.07565,0.27019,336.86164,138.35831)" font-size="11" fill="#222" textLength="36" lengthAdjust="spacingAndGlyphs" font-weight="700">40050:</text><text transform="matrix(0.25477,0.02013,-0.07635,0.27297,348.46204,139.27495)" font-size="10" fill="#333" textLength="22" lengthAdjust="spacingAndGlyphs">&lt;&#160;&#160;0&gt;</text><text transform="matrix(0.25897,0.02046,-0.07692,0.27521,357.83744,140.01577)" font-size="11" fill="#222" textLength="36" lengthAdjust="spacingAndGlyphs" font-weight="700">40060:</text><text transform="matrix(0.26441,0.02089,-0.07765,0.27810,369.87447,140.96691)" font-size="10" fill="#333" textLength="22" lengthAdjust="spacingAndGlyphs">&lt;&#160;&#160;0&gt;</text><text transform="matrix(0.26885,0.02124,-0.07823,0.28043,379.60609,141.73588)" font-size="11" fill="#222" textLength="36" lengthAdjust="spacingAndGlyphs" font-weight="700">40070:</text><text transform="matrix(0.27461,0.02170,-0.07898,0.28342,392.10486,142.72350)" font-size="10" fill="#333" textLength="22" lengthAdjust="spacingAndGlyphs">&lt;&#160;&#160;0&gt;</text><polygon points="258.10,133.83 397.93,145.11 396.50,150.24 256.82,138.36" fill="#f1f1f1"/><polygon points="259.83,134.74 262.44,134.96 261.59,137.99 258.98,137.77" fill="#fafafa" stroke="#c8c8c8" stroke-width="0.3"/><polygon points="263.75,135.06 266.38,135.28 265.52,138.32 262.90,138.10" fill="#e4e4e4" stroke="#c8c8c8" stroke-width="0.3"/><text transform="matrix(0.27517,0.02306,-0.07912,0.28395,392.47968,148.44042)" font-size="9" fill="#555">&#9656;</text><polygon points="255.46,139.27 397.85,151.52 396.10,157.80 253.90,144.80" fill="#ffffff"/><text transform="matrix(0.21557,0.01939,-0.07088,0.25153,255.18657,143.36952)" font-size="10" fill="#2f5d86" textLength="124" lengthAdjust="spacingAndGlyphs">For Help, press F1</text><text transform="matrix(0.25938,0.02333,-0.07711,0.27596,356.86474,152.51497)" font-size="10" fill="#2f5d86" textLength="36" lengthAdjust="spacingAndGlyphs">Polls: 0</text><text transform="matrix(0.26936,0.02423,-0.07844,0.28123,378.80338,154.48824)" font-size="10" fill="#2f5d86" textLength="40" lengthAdjust="spacingAndGlyphs">Resps: 0</text></g></svg>

</div></body></html>
